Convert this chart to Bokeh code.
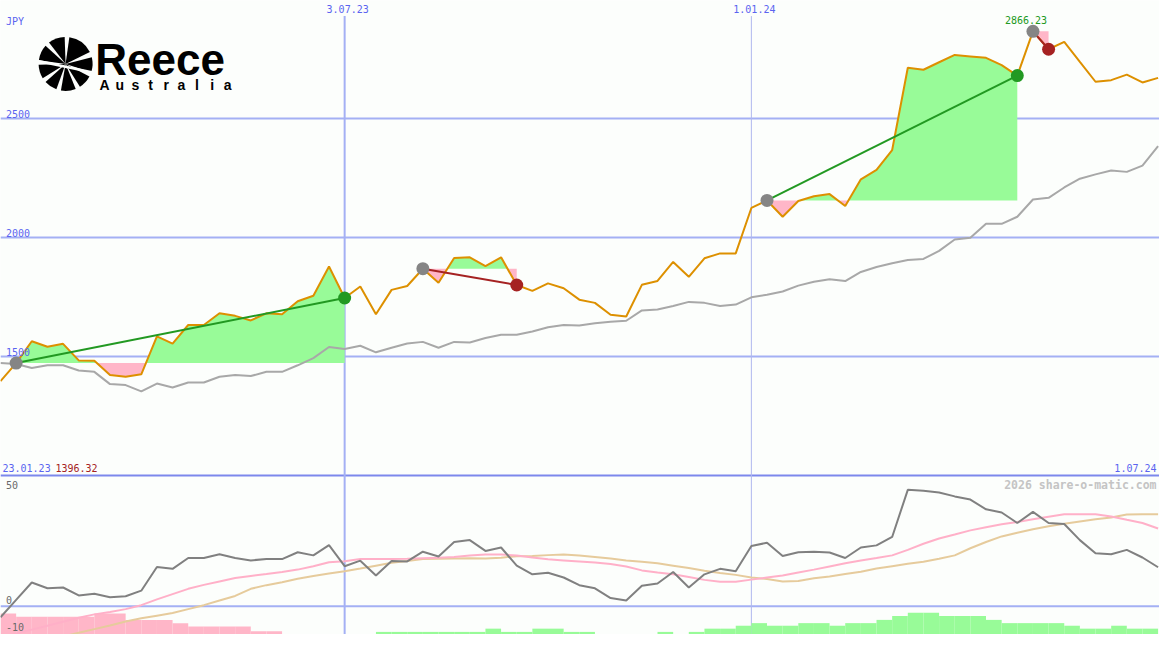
import numpy as np
from bokeh.plotting import figure
from bokeh.models import Range1d, Span
from bokeh.core.properties import value
from bokeh.embed import file_html
from bokeh.resources import INLINE

# ---------------- data (weekly, JPY) ----------------
price = [1396.32, 1472.5, 1564.3, 1541.0, 1553.3, 1483.6, 1482.4, 1422.1, 1415.2, 1425.0,
         1584.8, 1554.5, 1632.4, 1632.4, 1681.6, 1670.9, 1651.6, 1681.6, 1677.5, 1732.4,
         1755.3, 1878.3, 1745.9, 1793.9, 1677.5, 1780.0, 1796.3, 1868.9, 1810.2, 1913.9,
         1916.8, 1879.9, 1916.8, 1800.4, 1775.8, 1807.4, 1786.9, 1738.9, 1725.4, 1675.4,
         1668.0, 1801.2, 1817.6, 1897.5, 1834.8, 1912.7, 1933.2, 1933.2, 2124.2, 2155.7,
         2087.3, 2153.7, 2173.4, 2182.4, 2132.4, 2244.7, 2284.0, 2367.6, 2713.1, 2704.9,
         2736.5, 2767.2, 2761.1, 2754.9, 2724.6, 2680.3, 2866.23, 2791.0, 2821.7, 2737.7,
         2654.5, 2661.1, 2684.4, 2651.6, 2670.9]

moving_avg = [1472.5, 1468.4, 1452.0, 1463.1, 1463.1, 1441.4, 1435.6, 1384.0, 1379.9, 1353.7,
              1386.5, 1370.1, 1390.6, 1390.6, 1415.2, 1422.1, 1418.0, 1435.6, 1435.6, 1463.1,
              1493.0, 1539.8, 1531.6, 1545.1, 1517.6, 1536.9, 1554.5, 1561.5, 1536.9, 1561.5,
              1558.6, 1577.9, 1591.4, 1591.4, 1605.3, 1622.9, 1632.4, 1629.9, 1639.3, 1646.3,
              1650.4, 1693.8, 1697.9, 1711.9, 1729.5, 1725.4, 1711.9, 1718.4, 1748.8, 1759.4,
              1773.4, 1797.9, 1814.3, 1825.0, 1816.8, 1855.3, 1875.8, 1892.2, 1905.7, 1909.8,
              1943.9, 1991.8, 1998.8, 2057.4, 2057.4, 2087.3, 2159.8, 2166.8, 2210.2, 2247.1,
              2265.2, 2281.6, 2275.8, 2302.1, 2384.0]

momentum = [-4.2, 2.4, 9.0, 6.8, 7.1, 4.1, 4.7, 3.4, 3.8, 5.9,
            14.9, 14.2, 18.3, 18.3, 19.7, 18.3, 17.4, 17.9, 17.9, 20.5,
            19.3, 23.2, 15.2, 17.3, 11.7, 17.2, 17.0, 20.7, 18.9, 24.4,
            25.1, 21.0, 22.3, 15.4, 12.1, 12.7, 10.9, 8.0, 6.8, 3.1,
            2.2, 7.8, 8.6, 13.0, 7.1, 12.1, 14.2, 13.3, 22.9, 24.1,
            19.1, 20.5, 20.7, 20.4, 18.3, 22.3, 23.1, 26.3, 44.2, 43.8,
            43.2, 41.7, 40.5, 36.8, 35.6, 31.6, 35.8, 31.6, 31.2, 25.1,
            20.1, 19.7, 21.4, 18.5, 14.8]

signal_fast = [-11.9, -10.4, -8.9, -7.4, -5.9, -4.4, -3.1, -2.2, -1.1, 0.4,
               2.6, 4.6, 6.6, 8.1, 9.4, 10.7, 11.5, 12.2, 13.0, 13.9,
               15.2, 16.7, 17.1, 17.9, 17.9, 17.9, 18.0, 18.2, 18.4, 18.7,
               19.3, 19.6, 19.6, 19.3, 18.5, 17.8, 17.4, 17.0, 16.6, 16.0,
               15.1, 13.6, 12.8, 12.1, 11.1, 10.0, 9.3, 9.3, 10.1, 10.9,
               11.7, 12.8, 13.9, 15.1, 16.3, 17.4, 18.3, 19.3, 21.4, 23.7,
               25.7, 27.2, 28.8, 30.0, 31.1, 32.0, 33.0, 34.0, 34.9, 34.9,
               34.9, 34.1, 32.8, 31.6, 29.5]

signal_slow = [-17.4, -15.9, -14.4, -13.0, -11.5, -10.1, -8.7, -7.3, -5.8, -4.6,
               -3.6, -2.6, -1.1, 0.4, 2.2, 3.9, 6.6, 8.0, 9.1, 10.4,
               11.5, 12.4, 13.3, 14.3, 15.4, 16.5, 17.2, 17.9, 18.0, 18.1,
               18.2, 18.1, 18.4, 19.0, 19.1, 19.4, 19.6, 19.3, 18.7, 18.1,
               17.4, 16.9, 16.3, 15.4, 14.5, 13.5, 12.6, 11.9, 10.9, 10.3,
               9.4, 9.6, 10.6, 11.3, 12.2, 13.1, 14.3, 15.2, 16.1, 16.9,
               18.0, 19.3, 22.0, 24.4, 26.5, 27.9, 29.2, 30.4, 31.3, 32.2,
               33.0, 33.7, 34.8, 34.9, 34.9]

histogram = [-6.5, -5.5, -5.5, -5.5, -5.5, -5.5, -6.5, -6.5, -4.5, -4.5,
             -4.5, -3.5, -2.5, -2.5, -2.5, -2.5, -1.0, -1.0, 0, 0,
             0, 0, 0, 0, 0.8, 0.8, 0.8, 0.8, 0.8, 0.8,
             0.8, 1.8, 0.8, 0.8, 1.8, 1.8, 0.8, 0.8, 0, 0,
             0, 0, 0.8, 0, 0.8, 1.8, 1.8, 2.7, 3.5, 2.7,
             2.7, 3.5, 3.5, 2.7, 3.5, 3.5, 4.5, 5.7, 6.7, 6.7,
             5.7, 5.7, 5.7, 4.5, 3.5, 3.5, 3.5, 3.5, 2.7, 1.8,
             1.8, 2.7, 1.8, 1.8]

trade_entries = [1, 27, 49, 66]
trade_exits = [22, 33, 65, 67]

price_ticks = [1500, 2000, 2500]
date_tick_idx = [22, 48]
date_tick_labels = ["3.07.23", "1.01.24"]
end_label = "1.07.24"
start_label = "23.01.23"
ind_ticks = [50, 0, -10]
currency = "JPY"

# ---------------- styling ----------------
BG = "#fcfefc"
GRID = "#a4b0f4"
SEP = "#7c88ec"
LBL = "#5a64f0"
PRICE_C = "#dd9000"
MA_C = "#a8a8a8"
GREEN_FILL = "#98fb98"
PINK_FILL = "#ffb6c8"
WIN = "#229922"
LOSS = "#a52222"
DOT_GREY = "#858585"
MOM_C = "#808080"
SIG1 = "#ffb0c8"
SIG2 = "#e6cb9c"
WM = "#c4c4c4"
MONO = value("DejaVu Sans Mono")

W, H = 1159, 634
REF_W, REF_H = 1175, 650
X_END = 74.09
Y_TOP, Y_BOT = 2995.9, 331.95
IND_RANGE = (-10.74, 230.0)
HIST_RANGE = (0, 195.2)


def dx(px):
    return px / REF_W * X_END


def dy(py):
    return Y_TOP - py / REF_H * (Y_TOP - Y_BOT)


idx = np.arange(len(price))
price_a = np.array(price)

p = figure(width=W, height=H, x_range=Range1d(0, X_END), y_range=Range1d(Y_BOT, Y_TOP),
           output_backend="svg", toolbar_location=None, min_border=0,
           x_axis_location=None, y_axis_location=None,
           background_fill_color=BG, border_fill_color=BG, outline_line_color=None)
p.grid.visible = False
p.extra_y_ranges = {"ind": Range1d(*IND_RANGE), "hist": Range1d(*HIST_RANGE)}

# grid lines
for lv in price_ticks:
    p.add_layout(Span(location=lv, dimension="width", line_color=GRID, line_width=2, level="underlay"))
p.add_layout(Span(location=1000, dimension="width", line_color=SEP, line_width=2, level="underlay"))
p.add_layout(Span(location=0, dimension="width", line_color=GRID, line_width=2, level="underlay",
                  y_range_name="ind"))
p.segment(x0=[date_tick_idx[0]], y0=[Y_BOT], x1=[date_tick_idx[0]], y1=[dy(16)],
          line_color=GRID, line_width=2)
p.segment(x0=[date_tick_idx[1]], y0=[Y_BOT], x1=[date_tick_idx[1]], y1=[dy(16)],
          line_color="#b0b8ee", line_width=1)

# histogram (bottom panel)
hist_a = np.array(histogram)
p.vbar(x=np.arange(len(hist_a)) + 0.5, width=1.0, bottom=0, top=np.abs(hist_a),
       fill_color=[PINK_FILL if h < 0 else GREEN_FILL for h in hist_a], line_color=None,
       y_range_name="hist")


# trade fills
def split_fill(xs, ys, base):
    xx, yy = [xs[0]], [ys[0]]
    for k in range(1, len(xs)):
        d0, d1 = ys[k - 1] - base, ys[k] - base
        if d0 * d1 < 0:
            t = d0 / (d0 - d1)
            xx.append(xs[k - 1] + t * (xs[k] - xs[k - 1]))
            yy.append(base)
        xx.append(xs[k])
        yy.append(ys[k])
    return np.array(xx, dtype=float), np.array(yy, dtype=float)


for e, x in zip(trade_entries, trade_exits):
    base = price_a[e]
    xx, yy = split_fill(idx[e:x + 1], price_a[e:x + 1], base)
    b = np.full_like(yy, base)
    p.varea(x=xx, y1=b, y2=np.maximum(yy, base), fill_color=GREEN_FILL)
    p.varea(x=xx, y1=b, y2=np.minimum(yy, base), fill_color=PINK_FILL)

# price panel lines
p.line(idx, moving_avg, line_color=MA_C, line_width=2)
p.line(idx, price, line_color=PRICE_C, line_width=2)

for e, x in zip(trade_entries, trade_exits):
    col = WIN if price_a[x] > price_a[e] else LOSS
    p.line([e, x], [price_a[e], price_a[x]], line_color=col, line_width=2)
    p.scatter([e], [price_a[e]], size=13, fill_color=DOT_GREY, line_color=None)
    p.scatter([x], [price_a[x]], size=13, fill_color=col, line_color=None)

# indicator lines
p.line(idx, signal_slow, line_color=SIG2, line_width=2, y_range_name="ind")
p.line(idx, signal_fast, line_color=SIG1, line_width=2, y_range_name="ind")
p.line(idx, momentum, line_color=MOM_C, line_width=2, y_range_name="ind")

# ---------------- texts (anchored at their vertical middle) ----------------
TXT = dict(text_font=MONO, text_font_size="10px", text_baseline="middle")
p.text(x=[dx(5.5)] * len(price_ticks), y=price_ticks, text=[str(t) for t in price_ticks],
       text_color=LBL, y_offset=-5, **TXT)
p.text(x=[dx(5.5)], y=[dy(21.5)], text=[currency], text_color=LBL, **TXT)
p.text(x=date_tick_idx, y=[dy(8.7)] * 2, text=date_tick_labels, text_color=LBL,
       text_align="center", x_offset=3, **TXT)
p.text(x=[X_END], y=[1000], text=[end_label], text_color=LBL, text_align="right",
       x_offset=-3, y_offset=-8, **TXT)
p.text(x=[0], y=[1000], text=[start_label], text_color=LBL, text_align="left",
       x_offset=2, y_offset=-8, **TXT)
p.text(x=[0], y=[1000], text=[f"{price[0]:.2f}"], text_color=LOSS, text_align="left",
       x_offset=55, y_offset=-8, **TXT)
p.text(x=[dx(5.5)] * 3, y=ind_ticks, text=[str(t) for t in ind_ticks], text_color="#6a6a6a",
       y_offset=[10, -6, -6], y_range_name="ind", **TXT)
p.text(x=[X_END], y=[50], text=["2026 share-o-matic.com"], text_font=MONO,
       text_font_size="11.5px", text_font_style="bold", text_color=WM, text_align="right",
       text_baseline="middle", x_offset=-3, y_offset=10, y_range_name="ind")
imax = int(np.argmax(price_a))
p.text(x=[imax], y=[price_a[imax]], text=[f"{price_a[imax]:.2f}"], text_color=WIN,
       text_align="center", x_offset=-7, y_offset=-11, **TXT)

# ---------------- logo ----------------
cx, cy = dx(66), dy(65)
blades = [(92, 128), (138, 172), (182, 212), (222, 250), (260, 292), (302, 332), (342, 14), (26, 82)]
p.wedge(x=[cx] * len(blades), y=[cy] * len(blades), radius=27, radius_units="screen",
        start_angle=[np.deg2rad(a) for a, _ in blades], end_angle=[np.deg2rad(b) for _, b in blades],
        fill_color="black", line_color=None)
p.line([dx(38), dx(95)], [dy(62), dy(74)], line_color=BG, line_width=2.5)
p.text(x=[dx(96)], y=[dy(60)], text=["Reece"], text_font=value("Liberation Sans"),
       text_font_style="bold", text_font_size="44px", text_color="black", text_baseline="middle")
letters = list("Australia")
p.text(x=[dx(0)] * len(letters), y=[dy(86.5)] * len(letters), text=letters,
       text_font=value("Liberation Sans"), text_font_style="bold", text_font_size="14px",
       text_color="black", text_align="center", text_baseline="middle",
       x_offset=[104 + 15.4 * i for i in range(len(letters))])

open("out.html", "w").write(file_html(p, INLINE))
